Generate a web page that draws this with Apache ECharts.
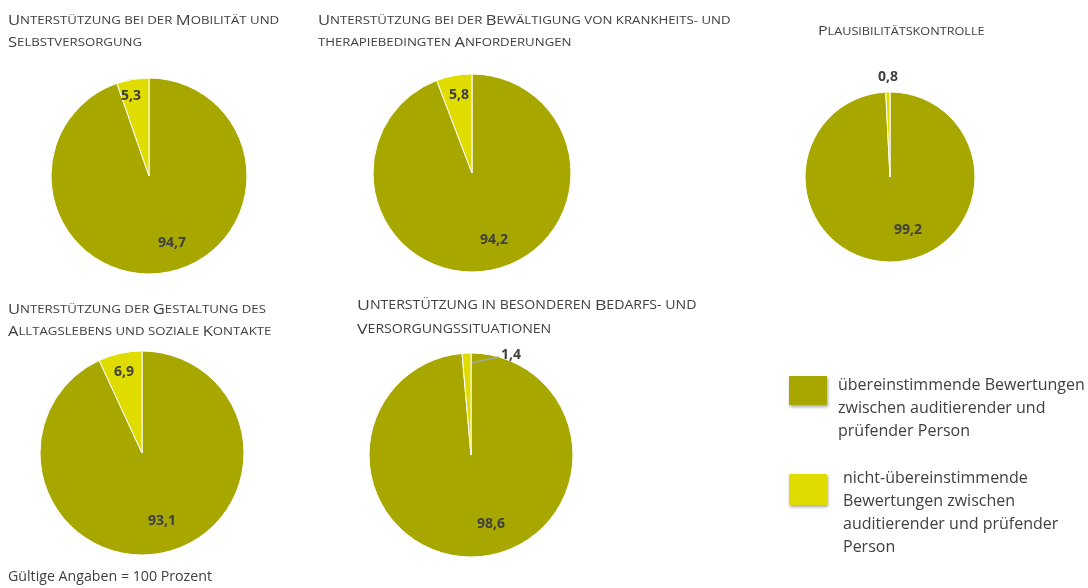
<!DOCTYPE html>
<html>
<head>
<meta charset="utf-8">
<script src="https://cdn.jsdelivr.net/npm/echarts@6/dist/echarts.min.js"></script>
<style>
  html, body { margin: 0; padding: 0; background: #fff; }
  #chart { width: 1088px; height: 588px; }
</style>
</head>
<body>
<div id="chart"></div>
<script>
// Category names (legend entries)
const categories = [
  'übereinstimmende Bewertungen zwischen auditierender und prüfender Person',
  'nicht-übereinstimmende Bewertungen zwischen auditierender und prüfender Person'
];
// Panel titles
const titles = [
  'Unterstützung bei der Mobilität und\nSelbstversorgung',
  'Unterstützung bei der Bewältigung von krankheits- und\ntherapiebedingten Anforderungen',
  'Plausibilitätskontrolle',
  'Unterstützung der Gestaltung des\nAlltagslebens und soziale Kontakte',
  'Unterstützung in besonderen Bedarfs- und\nVersorgungssituationen'
];
// Percent values per panel
const agreeing = [94.7, 94.2, 99.2, 93.1, 98.6];
const disagreeing = [5.3, 5.8, 0.8, 6.9, 1.4];
const footnote = 'Gültige Angaben = 100 Prozent';

const colors = ['#A7A700', '#E0DC00'];
const textColor = '#404040';
const font = '"Open Sans", sans-serif';

// Panel geometry: pie centre, radius, title anchor and size, label offsets from centre
const panels = [
  { center: [149, 176], r: 98,  title: [8, 10],   ts: 1,    lbl: [[23, 67], [-18, -80]] },
  { center: [472, 173], r: 99,  title: [318, 10], ts: 1,    lbl: [[22, 67], [-13, -78]] },
  { center: [890, 177], r: 85,  title: [818, 21], ts: 0.96, lbl: [[18, 53], [-2, -100]] },
  { center: [142, 453], r: 102, title: [8, 299],  ts: 1,    lbl: [[20, 68], [-18, -81]] },
  { center: [471, 455], r: 102, title: [357, 294], ts: 1.07, lbl: [[20, 69], [30, -100]] }
];
// Panel whose small-slice label sits outside the pie with a leader line
const leaderPanel = 4;
const leaderOffsets = [[1, -92], [22, -97], [28, -98]];

// Small-caps rendering: capitals at full size, lowercase as smaller capitals
function smallCaps(str) {
  let out = '';
  let cur = null, buf = '';
  const flush = () => { if (buf) out += '{' + cur + '|' + buf + '}'; buf = ''; };
  for (const ch of str) {
    if (ch === '\n') { flush(); out += '\n'; cur = null; continue; }
    const isUpper = ch !== ch.toLowerCase();
    const type = (ch === ' ' || ch === '-') ? (cur || 's') : (isUpper ? 'b' : 's');
    if (type !== cur) { flush(); cur = type; }
    buf += isUpper ? ch : ch.toUpperCase();
  }
  flush();
  return out;
}

const fmt = v => v.toFixed(1).replace('.', ',');

const chart = echarts.init(document.getElementById('chart'), null, { renderer: 'canvas' });

const series = panels.map((p, i) => ({
  type: 'pie',
  center: p.center,
  radius: [0, p.r],
  startAngle: 90,
  clockwise: true,
  silent: true,
  animation: false,
  itemStyle: { borderColor: '#ffffff', borderWidth: 1 },
  label: {
    show: true,
    position: 'inside',
    formatter: d => fmt(d.value),
    fontFamily: font,
    fontWeight: 'bold',
    fontSize: 14,
    color: textColor
  },
  labelLine: { show: false },
  labelLayout: params => {
    const o = p.lbl[params.dataIndex];
    const outside = i === leaderPanel && params.dataIndex === 1;
    return {
      x: p.center[0] + o[0],
      y: p.center[1] + o[1],
      align: outside ? 'left' : 'center',
      verticalAlign: 'middle'
    };
  },
  data: [
    { name: categories[0], value: agreeing[i], itemStyle: { color: colors[0] } },
    { name: categories[1], value: disagreeing[i], itemStyle: { color: colors[1] } }
  ]
}));

const graphics = [];

// Panel titles in small capitals, slightly widened
panels.forEach((p, i) => {
  const s = p.ts;
  graphics.push({
    type: 'text',
    x: p.title[0],
    y: p.title[1],
    scaleX: 1.2,
    silent: true,
    style: {
      text: smallCaps(titles[i]),
      fill: textColor,
      verticalAlign: 'top',
      lineHeight: 22 * s,
      rich: {
        b: { fontSize: 13.8 * s, fontFamily: font, fill: textColor, lineHeight: 22 * s },
        s: { fontSize: 11 * s, fontFamily: font, fill: textColor, lineHeight: 22 * s }
      }
    }
  });
});

// Leader line for the outside label, drawn above the pie
{
  const c = panels[leaderPanel].center;
  graphics.push({
    type: 'polyline',
    silent: true,
    z: 100,
    shape: { points: leaderOffsets.map(o => [c[0] + o[0], c[1] + o[1]]) },
    style: { stroke: '#a6a6a6', lineWidth: 1.5, fill: null }
  });
}

// Legend blocks with wrapped descriptions
const legendText = [
  'übereinstimmende Bewertungen\nzwischen auditierender und\nprüfender Person',
  'nicht-übereinstimmende\nBewertungen zwischen\nauditierender und prüfender\nPerson'
];
[[789, 376, 29, 838, 374], [789, 474, 31, 843, 467]].forEach((g, k) => {
  graphics.push({
    type: 'rect',
    left: g[0], top: g[1],
    shape: { width: 38, height: g[2] },
    style: {
      fill: colors[k],
      shadowBlur: 3, shadowOffsetX: 1, shadowOffsetY: 2,
      shadowColor: 'rgba(0,0,0,0.35)'
    }
  });
  graphics.push({
    type: 'text',
    left: g[3], top: g[4],
    style: {
      text: legendText[k],
      font: '16px ' + font,
      fill: textColor,
      lineHeight: 23
    }
  });
});
graphics.push({
  type: 'text',
  left: 8, top: 570,
  style: { text: footnote, font: '14.2px ' + font, fill: textColor }
});

chart.setOption({
  backgroundColor: '#ffffff',
  animation: false,
  series: series,
  graphic: graphics
});
</script>
</body>
</html>
